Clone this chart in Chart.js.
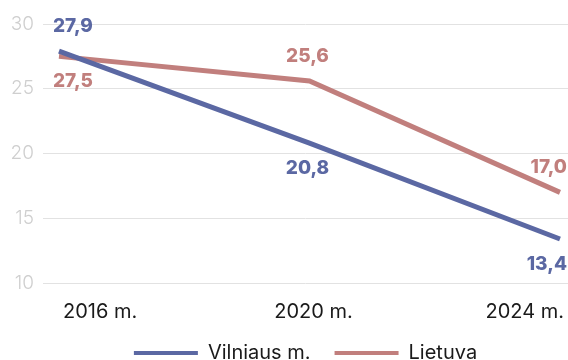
<!DOCTYPE html>
<html lang="lt">
<head>
<meta charset="utf-8">
<title>Vilniaus m. ir Lietuva, 2016–2024 m.</title>
<script src="https://cdn.jsdelivr.net/npm/chart.js@4/dist/chart.umd.min.js"></script>
<style>
  html, body { margin: 0; padding: 0; background: #ffffff; }
  #wrap { width: 568px; height: 360px; position: relative; }
</style>
</head>
<body>
<div id="wrap"><canvas id="chart"></canvas></div>
<script>
// Survey years and their axis captions
const years = [2016, 2020, 2024];
const yearLabels = ['2016 m.', '2020 m.', '2024 m.'];

// Values per series
const vilnius = [27.9, 20.8, 13.4];
const lietuva = [27.5, 25.6, 17.0];

// Y axis range and step
const yMin = 10;
const yMax = 30;
const yStep = 5;

const BLUE = '#5b68a3';
const ROSE = '#c17f7d';
const FONT = 'Inter, "Noto Sans", "DejaVu Sans", sans-serif';

// Which side of the line each value caption sits on
const vilniusSides = ['above', 'below', 'below'];
const lietuvaSides = ['below', 'above', 'above'];

const fmt = v => v.toFixed(1).replace('.', ',');

// Draws the value captions next to each point of each line
const valueLabels = {
  id: 'valueLabels',
  afterDatasetsDraw(chart) {
    const ctx = chart.ctx;
    ctx.save();
    ctx.font = '800 19px ' + FONT;
    ctx.textBaseline = 'middle';
    chart.data.datasets.forEach((ds, di) => {
      const meta = chart.getDatasetMeta(di);
      const n = meta.data.length;
      meta.data.forEach((pt, i) => {
        const side = ds.labelSides[i];
        let x = pt.x;
        if (i === 0) { ctx.textAlign = 'left'; x -= 6; }
        else if (i === n - 1) { ctx.textAlign = 'right'; x += 7; }
        else { ctx.textAlign = 'center'; x -= 2; }
        const y = side === 'above' ? pt.y - 25 : pt.y + 25;
        ctx.fillStyle = ds.borderColor;
        ctx.fillText(fmt(ds.data[i].y), x, y);
      });
    });
    ctx.restore();
  }
};

const toPoints = vals => vals.map((v, i) => ({ x: years[i], y: v }));

new Chart(document.getElementById('chart'), {
  type: 'line',
  data: {
    datasets: [
      {
        label: 'Vilniaus m.',
        data: toPoints(vilnius),
        borderColor: BLUE,
        backgroundColor: BLUE,
        borderWidth: 5,
        pointRadius: 0,
        tension: 0,
        labelSides: vilniusSides
      },
      {
        label: 'Lietuva',
        data: toPoints(lietuva),
        borderColor: ROSE,
        backgroundColor: ROSE,
        borderWidth: 5,
        pointRadius: 0,
        tension: 0,
        labelSides: lietuvaSides
      }
    ]
  },
  options: {
    responsive: true,
    maintainAspectRatio: false,
    animation: false,
    layout: { padding: { top: 24, right: 0, bottom: -13, left: 0 } },
    plugins: {
      tooltip: { enabled: false },
      legend: {
        position: 'bottom',
        fullSize: false,
        labels: {
          boxWidth: 64,
          boxHeight: 4,
          padding: 24,
          color: '#1a1a1a',
          font: { family: FONT, size: 20, weight: '400' },
          generateLabels(chart) {
            const items = Chart.defaults.plugins.legend.labels.generateLabels(chart);
            items.forEach(it => { it.lineWidth = 0; });
            return items;
          }
        }
      }
    },
    scales: {
      x: {
        type: 'linear',
        min: 2015.745,
        max: 2024.128,
        afterBuildTicks(scale) {
          scale.ticks = years.map(v => ({ value: v }));
        },
        afterFit(scale) {
          scale.paddingLeft = 0;
          scale.paddingRight = 0;
          scale.height = 36;
        },
        grid: { display: false, drawTicks: false },
        border: { display: false },
        ticks: {
          align: 'inner',
          labelOffset: 4,
          padding: 17,
          maxRotation: 0,
          autoSkip: false,
          color: '#1a1a1a',
          font: { family: FONT, size: 20, weight: '400' },
          callback: v => yearLabels[years.indexOf(v)]
        }
      },
      y: {
        min: yMin,
        max: yMax,
        afterFit(scale) {
          scale.width = 43;
          scale.paddingTop = 0;
          scale.paddingBottom = 0;
        },
        grid: { color: '#e2e2e2', lineWidth: 1, drawTicks: false },
        border: { display: false },
        ticks: {
          stepSize: yStep,
          padding: 9,
          color: '#cfcfcf',
          font: { family: FONT, size: 19, weight: '300' }
        }
      }
    }
  },
  plugins: [valueLabels]
});
</script>
</body>
</html>
